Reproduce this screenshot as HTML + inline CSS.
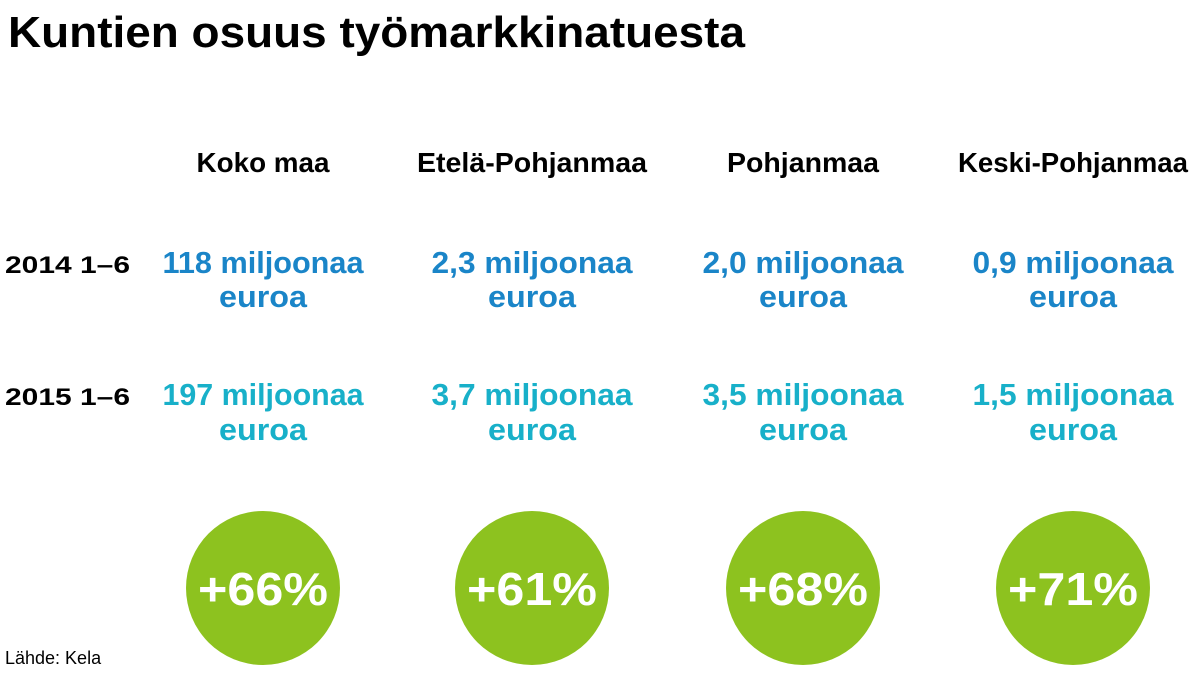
<!DOCTYPE html>
<html><head><meta charset="utf-8"><style>
html,body{margin:0;padding:0;background:#fff;}
svg{display:block;font-family:"Liberation Sans",sans-serif;font-weight:bold;}
</style></head><body>
<svg width="1198" height="674" viewBox="0 0 1198 674">
<text x="8" y="47" font-size="44" textLength="737" lengthAdjust="spacingAndGlyphs" fill="#000">Kuntien osuus työmarkkinatuesta</text>
<g id="cols"></g>
<text x="5" y="273" font-size="24" fill="#000" textLength="125" lengthAdjust="spacingAndGlyphs">2014  1–6</text>
<text x="5" y="405" font-size="24" fill="#000" textLength="125" lengthAdjust="spacingAndGlyphs">2015  1–6</text>
<text x="5" y="664" font-size="18" font-weight="normal" fill="#000">Lähde: Kela</text>
</svg>
<script>
const regions = ["Koko maa","Etelä-Pohjanmaa","Pohjanmaa","Keski-Pohjanmaa"];
const values2014 = ["118","2,3","2,0","0,9"];
const values2015 = ["197","3,7","3,5","1,5"];
const changes = ["+66%","+61%","+68%","+71%"];
const centers=[263,532,803,1073];
const headerW=[133,230,152,230];
const ns="http://www.w3.org/2000/svg";
const g=document.getElementById('cols');
function t(x,y,s,txt,fill,len){
  const e=document.createElementNS(ns,'text');
  e.setAttribute('x',x);e.setAttribute('y',y);e.setAttribute('font-size',s);
  e.setAttribute('fill',fill);e.setAttribute('text-anchor','middle');
  if(len){e.setAttribute('textLength',len);e.setAttribute('lengthAdjust','spacingAndGlyphs');}
  e.textContent=txt;g.appendChild(e);return e;
}
regions.forEach((r,i)=>{
  const cx=centers[i];
  let h=t(cx,172,28,r,'#000',headerW[i]);
  
  
  let a=t(cx,273,31,values2014[i]+" miljoonaa",'#1a85c8',values2014[i].length*17+150);
  
  
  let a2=t(cx,307,31,"euroa",'#1a85c8',88);
  
  
  let b=t(cx,405,31,values2015[i]+" miljoonaa",'#18b0c9',values2015[i].length*17+150);
  
  
  let b2=t(cx,440,31,"euroa",'#18b0c9',88);
  
  
  const c=document.createElementNS(ns,'circle');
  c.setAttribute('cx',cx);c.setAttribute('cy',588);c.setAttribute('r',77);c.setAttribute('fill','#8dc21f');
  
  
  g.appendChild(c);
  let p=t(cx,605,46,changes[i],'#fff',130);
  
  
});
</script>
</body></html>
